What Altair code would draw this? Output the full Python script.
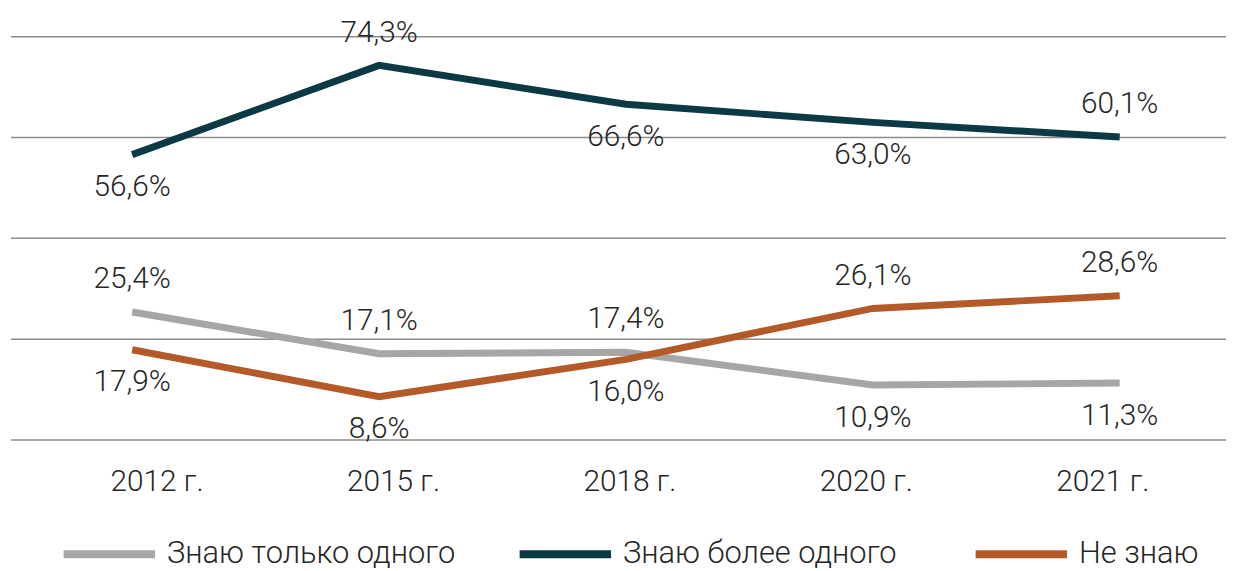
import altair as alt
import pandas as pd

years = ["2012 г.", "2015 г.", "2018 г.", "2020 г.", "2021 г."]
series = ["Знаю только одного", "Знаю более одного", "Не знаю"]
only_one = [25.4, 17.1, 17.4, 10.9, 11.3]
more_than_one = [56.6, 74.3, 66.6, 63.0, 60.1]
dont_know = [17.9, 8.6, 16.0, 26.1, 28.6]
grid_values = [0, 20, 40, 60, 80]

colors = ["#A6A6A5", "#0C3A44", "#B35A28"]
label_above = {
    "Знаю только одного": [True, True, True, False, False],
    "Знаю более одного": [False, True, False, False, True],
    "Не знаю": [False, False, False, True, True],
}

rows = []
for s, vals in zip(series, [only_one, more_than_one, dont_know]):
    for i, (yr, v) in enumerate(zip(years, vals)):
        rows.append({
            "year": yr,
            "series": s,
            "value": v,
            "label": f"{v:.1f}".replace(".", ",") + "%",
            "above": label_above[s][i],
        })
df = pd.DataFrame(rows)

FONT = "Roboto"
TXT = "#262626"

x_pts = alt.X("year:N", sort=years,
              scale=alt.Scale(type="point", range=[122, 1116], padding=0),
              axis=None)
y_scale = alt.Scale(domain=[0, 80], nice=False, zero=True)
y_enc = alt.Y("value:Q", scale=y_scale, axis=None)

grid = alt.Chart(pd.DataFrame({"value": grid_values})).mark_rule(
    color="#8C8C8C", strokeWidth=1.5
).encode(y=y_enc)

base = alt.Chart(df)

lines = base.mark_line(strokeWidth=7, strokeCap="butt").encode(
    x=x_pts,
    y=y_enc,
    color=alt.Color("series:N", sort=series,
                    scale=alt.Scale(domain=series, range=colors),
                    legend=alt.Legend(orient="none", legendX=49, legendY=471,
                                      direction="horizontal", title=None,
                                      symbolType="stroke", symbolSize=8464,
                                      symbolStrokeWidth=8, labelFontSize=31,
                                      labelFont=FONT, labelFontWeight=300,
                                      labelColor=TXT, labelOffset=8,
                                      columnPadding=48, gridAlign="all",
                                      padding=0, labelLimit=600)),
)

labels_above = base.transform_filter("datum.above").mark_text(
    dy=-33, fontSize=30, font=FONT, fontWeight=300, color=TXT, baseline="middle"
).encode(x=x_pts, y=y_enc, text="label:N")

labels_below = base.transform_filter("!datum.above").mark_text(
    dy=33, fontSize=30, font=FONT, fontWeight=300, color=TXT, baseline="middle"
).encode(x=x_pts, y=y_enc, text="label:N")

axis_labels = alt.Chart(pd.DataFrame({"year": years})).mark_text(
    fontSize=30, font=FONT, fontWeight=300, color=TXT, baseline="middle"
).encode(
    x=alt.X("year:N", sort=years,
            scale=alt.Scale(type="point", range=[147, 1099], padding=0),
            axis=None),
    y=alt.value(448),
    text="year:N",
)

chart = alt.layer(grid, lines, labels_above, labels_below, axis_labels).resolve_scale(
    x="independent"
).properties(
    width=1223,
    height=406,
    autosize=alt.AutoSizeParams(type="none"),
    padding={"left": 3, "top": 27, "right": 0, "bottom": 130},
    background="white",
).configure_view(stroke=None)

chart.save("out.html", embed_options={"renderer": "svg", "actions": False})
